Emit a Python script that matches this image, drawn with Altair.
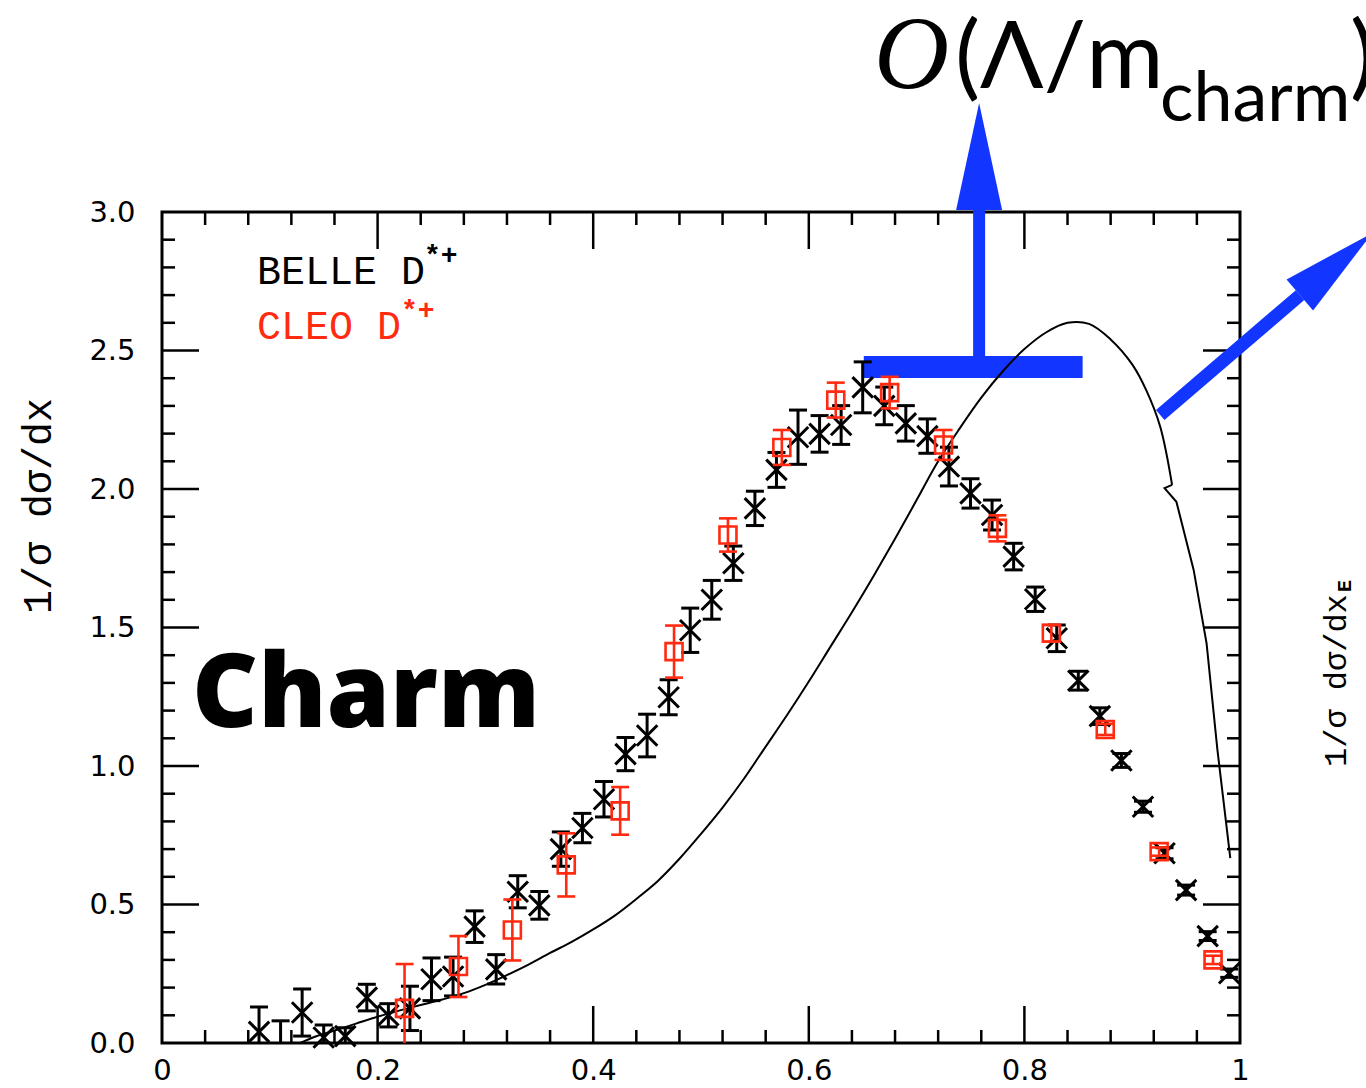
import altair as alt
import pandas as pd

# ---------------------------------------------------------------- data
# BELLE D*+ : x, 1/sigma dsigma/dx, symmetric error
belle_x = [0.09, 0.11, 0.13, 0.15, 0.17, 0.19, 0.21, 0.23, 0.25, 0.27,
           0.29, 0.31, 0.33, 0.35, 0.37, 0.39, 0.41, 0.43, 0.45, 0.47,
           0.49, 0.51, 0.53, 0.55, 0.57, 0.59, 0.61, 0.63, 0.65, 0.67,
           0.69, 0.71, 0.73, 0.75, 0.77, 0.79, 0.81, 0.83, 0.85, 0.87,
           0.89, 0.91, 0.93, 0.95, 0.97, 0.99]
belle_y = [0.04, -0.04, 0.11, 0.02, 0.025, 0.164, 0.10, 0.125, 0.23, 0.24,
           0.42, 0.266, 0.546, 0.497, 0.70, 0.776, 0.88, 1.043, 1.11, 1.248,
           1.49, 1.60, 1.732, 1.93, 2.069, 2.187, 2.199, 2.231, 2.367, 2.30,
           2.237, 2.191, 2.081, 1.984, 1.906, 1.756, 1.602, 1.461, 1.308, 1.18,
           1.02, 0.853, 0.685, 0.552, 0.386, 0.252]
belle_err = [0.09, 0.12, 0.085, 0.045, 0.03, 0.048, 0.042, 0.08, 0.077, 0.07,
             0.057, 0.053, 0.058, 0.05, 0.062, 0.053, 0.064, 0.06, 0.077, 0.063,
             0.08, 0.07, 0.062, 0.062, 0.063, 0.098, 0.066, 0.07, 0.092, 0.068,
             0.064, 0.062, 0.07, 0.053, 0.054, 0.048, 0.044, 0.048, 0.034, 0.03,
             0.025, 0.02, 0.02, 0.018, 0.016, 0.015]

# CLEO D*+
cleo_x = [0.225, 0.275, 0.325, 0.375, 0.425, 0.475, 0.525, 0.575,
          0.625, 0.675, 0.725, 0.775, 0.825, 0.875, 0.925, 0.975]
cleo_y = [0.125, 0.276, 0.408, 0.643, 0.838, 1.413, 1.834, 2.15,
          2.321, 2.348, 2.159, 1.858, 1.479, 1.132, 0.691, 0.30]
cleo_err = [0.16, 0.11, 0.11, 0.114, 0.086, 0.094, 0.06, 0.063,
            0.063, 0.057, 0.054, 0.047, 0.03, 0.02, 0.015, 0.015]

# model curve: smooth body up to the kink near x=0.937 ...
curve_x = [0.12, 0.14, 0.16, 0.18, 0.20, 0.22, 0.24, 0.26, 0.28, 0.30,
           0.32, 0.34, 0.36, 0.38, 0.40, 0.42, 0.44, 0.46, 0.48, 0.50,
           0.52, 0.54, 0.56, 0.58, 0.60, 0.62, 0.64, 0.66, 0.68, 0.70,
           0.72, 0.74, 0.76, 0.78, 0.80, 0.82, 0.84, 0.86, 0.88, 0.90,
           0.913, 0.926, 0.937]
curve_y = [-0.015, 0.02, 0.045, 0.07, 0.095, 0.117, 0.137, 0.157, 0.18, 0.21,
           0.245, 0.283, 0.325, 0.365, 0.41, 0.46, 0.52, 0.585, 0.665, 0.755,
           0.85, 0.955, 1.07, 1.185, 1.305, 1.43, 1.555, 1.685, 1.82, 1.96,
           2.10, 2.219, 2.33, 2.425, 2.505, 2.565, 2.60, 2.596, 2.54, 2.45,
           2.357, 2.225, 2.015]
# ... and the tail after it, drawn with straight segments
tail_x = [0.937, 0.930, 0.941, 0.957, 0.969, 0.979, 0.991]
tail_y = [2.015, 2.003, 1.954, 1.708, 1.443, 1.06, 0.667]

x_label_values = [0, 0.2, 0.4, 0.6, 0.8, 1.0]
y_label_values = [0, 0.5, 1.0, 1.5, 2.0, 2.5, 3.0]

# ---------------------------------------------------------------- layout
CANVAS_W, CANVAS_H = 1366, 1088
LEFT, TOP = 162, 212
W, H = 1078, 831
X_MAX, Y_MAX = 1.0, 3.0
PX_X = W / X_MAX
PX_Y = H / Y_MAX
MAJOR_LEN, MINOR_LEN = 37, 13

RED = "#ff2a10"
BLUE = "#1236ff"
MONO = "Liberation Mono"

xs = alt.Scale(domain=[0, X_MAX], nice=False, zero=False)
ys = alt.Scale(domain=[0, Y_MAX], nice=False, zero=False)

x_axis = alt.Axis(values=x_label_values, title=None, grid=False, ticks=False,
                  tickSize=0, domain=False, labelPadding=13, labelFlush=False,
                  labelOverlap=False,
                  labelExpr="datum.value == 0 ? '0' : datum.value == 1 ? '1' : format(datum.value, '.1f')")
y_axis = alt.Axis(values=y_label_values, title=None, grid=False, ticks=False,
                  tickSize=0, domain=False, labelPadding=27, format=".1f",
                  labelOverlap=False, labelFlush=False)


def X(field):
    return alt.X(f"{field}:Q", scale=xs, axis=x_axis)


def Y(field):
    return alt.Y(f"{field}:Q", scale=ys, axis=y_axis)


belle = pd.DataFrame({"x": belle_x, "y": belle_y, "e": belle_err})
belle["lo"] = belle["y"] - belle["e"]
belle["hi"] = belle["y"] + belle["e"]
cleo = pd.DataFrame({"x": cleo_x, "y": cleo_y, "e": cleo_err})
cleo["lo"] = cleo["y"] - cleo["e"]
cleo["hi"] = cleo["y"] + cleo["e"]
curve = pd.DataFrame({"x": curve_x, "y": curve_y, "i": range(len(curve_x))})
tail = pd.DataFrame({"x": tail_x, "y": tail_y, "i": range(len(tail_x))})

# inward ticks on all four sides of the frame
rows = []
for i in range(1, 25):
    p = round(0.04 * i, 2)
    ln = MAJOR_LEN if i % 5 == 0 else MINOR_LEN
    rows.append({"x": p, "x2": p, "y": 0, "y2": ln / PX_Y})
    rows.append({"x": p, "x2": p, "y": Y_MAX, "y2": Y_MAX - ln / PX_Y})
for i in range(1, 30):
    p = round(0.1 * i, 2)
    ln = MAJOR_LEN if i % 5 == 0 else MINOR_LEN
    rows.append({"x": 0, "x2": ln / PX_X, "y": p, "y2": p})
    rows.append({"x": X_MAX, "x2": X_MAX - ln / PX_X, "y": p, "y2": p})
ticks = pd.DataFrame(rows)

frame_ticks = alt.Chart(ticks).mark_rule(color="black", strokeWidth=2.5).encode(
    x=X("x"), x2="x2:Q", y=Y("y"), y2="y2:Q")

# ---------------------------------------------------------------- blue annotation arrows
tbar = pd.DataFrame({"x": [0.651], "x2": [0.854], "y": [2.44]})
shaft = pd.DataFrame({"x": [0.758], "y": [2.44], "y2": [3.01]})
head_up = pd.DataFrame({"x": [0.758], "y": [3.20]})
slant = pd.DataFrame({"x": [0.926], "y": [2.267], "x2": [1.0557], "y2": [2.70]})
head_slant = pd.DataFrame({"x": [1.089], "y": [2.812]})
ARROW_PATH = "M0,-1L0.43,1L-0.43,1Z"

blue = [
    alt.Chart(tbar).mark_rule(color=BLUE, strokeWidth=22).encode(
        x=X("x"), x2="x2:Q", y=Y("y")),
    alt.Chart(shaft).mark_rule(color=BLUE, strokeWidth=12).encode(
        x=X("x"), y=Y("y"), y2="y2:Q"),
    alt.Chart(head_up).mark_point(shape=ARROW_PATH, size=11449, filled=True,
                                  color=BLUE, opacity=1, strokeWidth=0).encode(
        x=X("x"), y=Y("y")),
    alt.Chart(slant).mark_rule(color=BLUE, strokeWidth=13).encode(
        x=X("x"), x2="x2:Q", y=Y("y"), y2="y2:Q"),
    alt.Chart(head_slant).mark_point(shape=ARROW_PATH, size=9025, filled=True,
                                     angle=49.5, color=BLUE, opacity=1,
                                     strokeWidth=0).encode(
        x=X("x"), y=Y("y")),
]

# ---------------------------------------------------------------- curve and data
curve_layer = alt.Chart(curve).mark_line(
    color="black", strokeWidth=2, clip=True, interpolate="catmull-rom"
).encode(x=X("x"), y=Y("y"), order="i:Q")
tail_layer = alt.Chart(tail).mark_line(
    color="black", strokeWidth=2, clip=True
).encode(x=X("x"), y=Y("y"), order="i:Q")

CROSS = "M-1,-1L1,1M-1,1L1,-1"


def series(df, color, shape, size, sw):
    bars = alt.Chart(df).mark_rule(color=color, strokeWidth=sw, clip=True).encode(
        x=X("x"), y=Y("lo"), y2="hi:Q")
    cap_lo = alt.Chart(df).mark_tick(color=color, orient="horizontal", size=18,
                                     thickness=sw, clip=True, opacity=1).encode(
        x=X("x"), y=Y("lo"))
    cap_hi = alt.Chart(df).mark_tick(color=color, orient="horizontal", size=18,
                                     thickness=sw, clip=True, opacity=1).encode(
        x=X("x"), y=Y("hi"))
    pts_in = alt.Chart(df).transform_filter("datum.y >= 0").mark_point(
        shape=shape, size=size, filled=False, color=color, strokeWidth=sw,
        opacity=1).encode(x=X("x"), y=Y("y"))
    pts_out = alt.Chart(df).transform_filter("datum.y < 0").mark_point(
        shape=shape, size=size, filled=False, color=color, strokeWidth=sw,
        opacity=1, clip=True).encode(x=X("x"), y=Y("y"))
    return [bars, cap_lo, cap_hi, pts_in, pts_out]


belle_layers = series(belle, "black", CROSS, 420, 3)
cleo_layers = series(cleo, RED, "square", 289, 2.6)


# ---------------------------------------------------------------- text
def note(text, px, py, **style):
    style.setdefault("baseline", "alphabetic")
    style.setdefault("align", "left")
    style.setdefault("color", "black")
    return alt.Chart(pd.DataFrame({"t": [text]})).mark_text(**style).encode(
        x=alt.value(px - LEFT), y=alt.value(py - TOP), text="t:N")


texts = [
    note("BELLE D", 257, 284, font=MONO, fontSize=40),
    note("*+", 424, 264, font=MONO, fontSize=28, fontWeight="bold"),
    note("CLEO D", 257, 339, font=MONO, fontSize=40, color=RED),
    note("*+", 401, 319, font=MONO, fontSize=28, fontWeight="bold", color=RED),
    note("Charm", 192, 727, font="Open Sans", fontSize=102, fontWeight=800),
    note("1/σ dσ/dx", 51, 506, font=MONO, fontSize=40, angle=270, align="center"),
    note("1/σ dσ/dx", 1346, 767, font=MONO, fontSize=32, angle=270),
    note("E", 1351, 592, font=MONO, fontSize=20, fontWeight="bold", angle=270),
    note("O", 874, 88, font="Liberation Serif", fontStyle="italic", fontSize=104),
    note("(Λ/m", 955, 88, font="Lato, Open Sans, sans-serif", fontSize=94),
    note("charm", 1160, 121, font="Lato, Open Sans, sans-serif", fontSize=70),
    note(")", 1350, 88, font="Lato, Open Sans, sans-serif", fontSize=94),
]

chart = alt.layer(
    frame_ticks, *blue, curve_layer, tail_layer, *belle_layers, *cleo_layers, *texts
).properties(
    width=W, height=H,
    autosize=alt.AutoSizeParams(type="none"),
    padding={"left": LEFT, "top": TOP, "right": CANVAS_W - LEFT - W,
             "bottom": CANVAS_H - TOP - H},
    background="white",
).configure_view(
    stroke="black", strokeWidth=3
).configure_axis(
    labelFont="DejaVu Sans", labelFontSize=29, labelColor="black"
)

chart.save("out.html", embed_options={"renderer": "svg", "actions": False})
